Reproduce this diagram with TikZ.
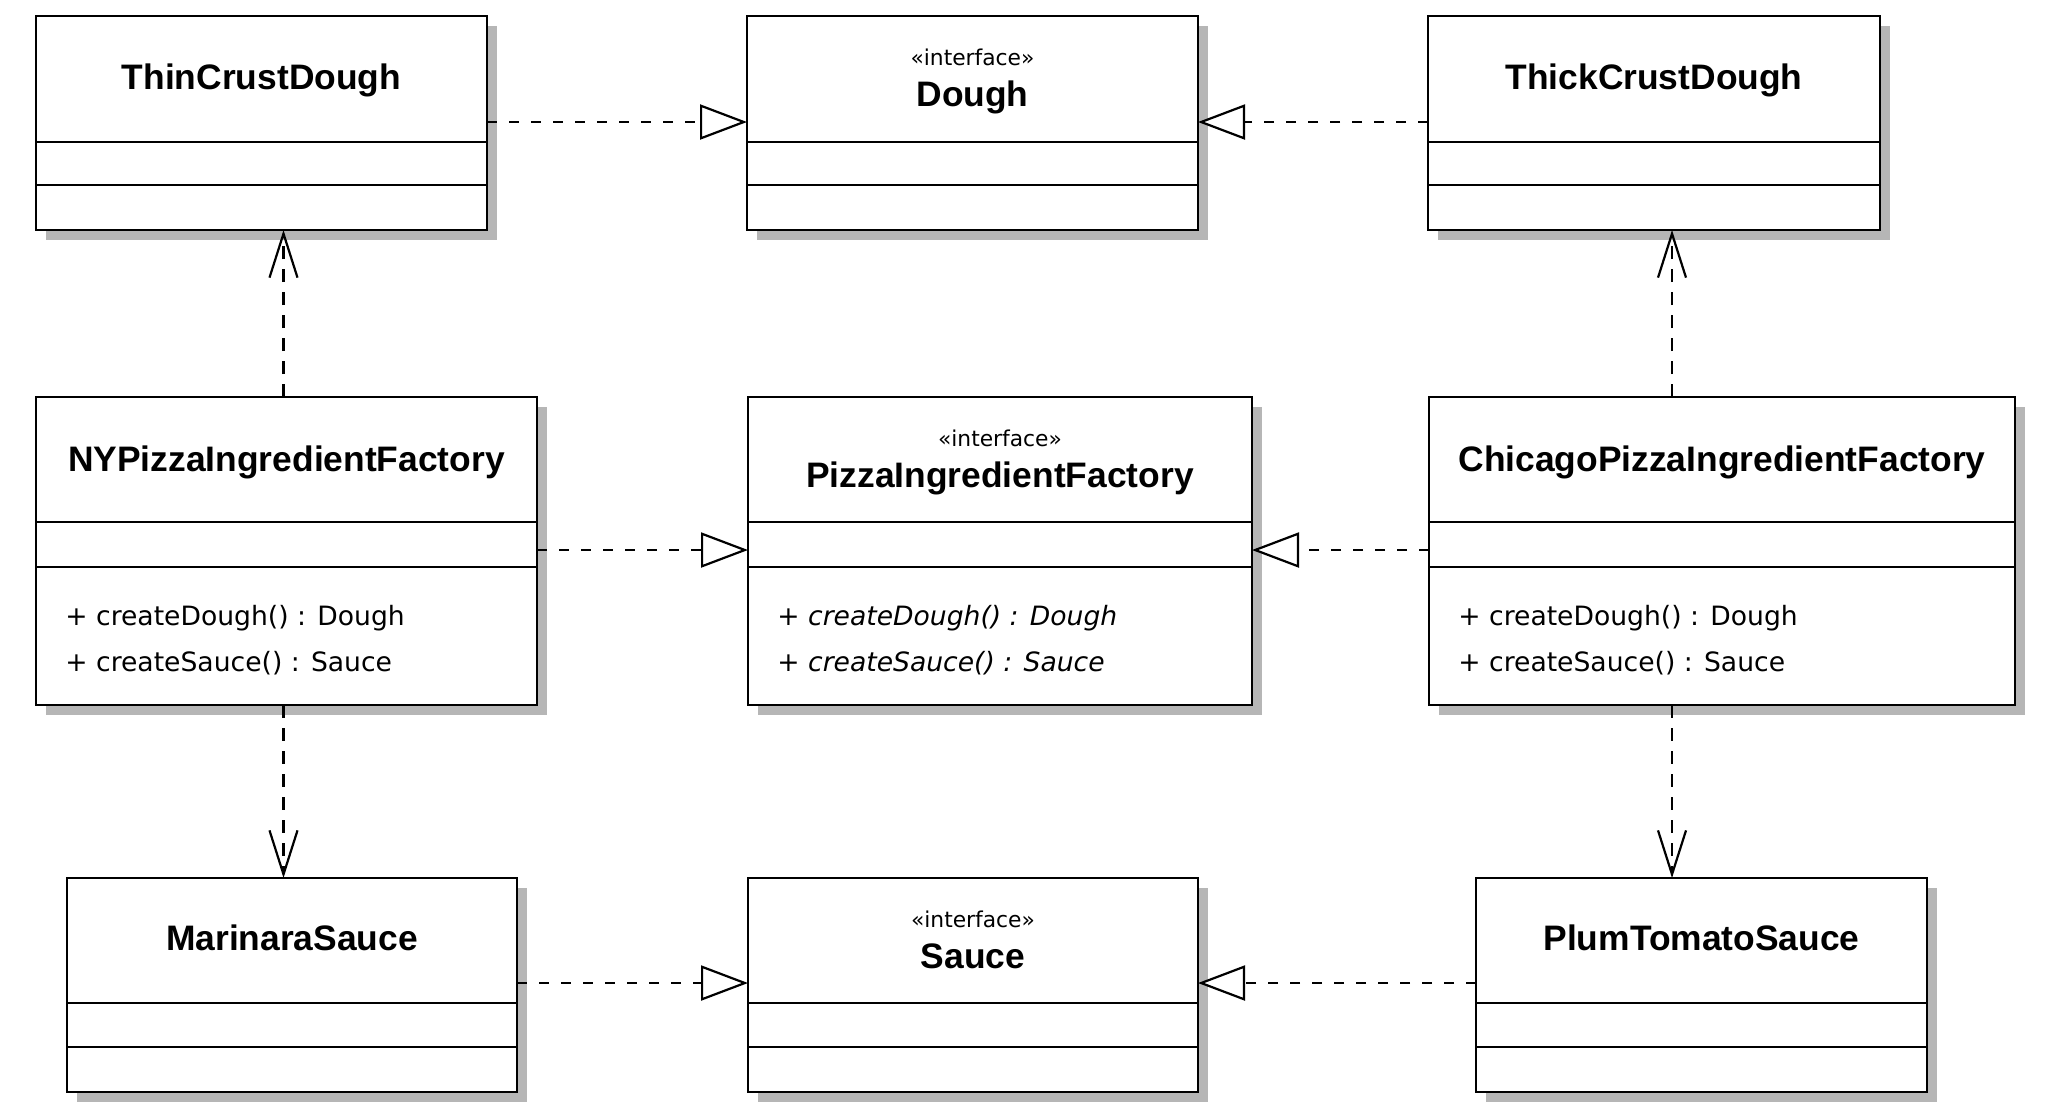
\documentclass[tikz,border=0pt]{standalone}
\usepackage{fontspec}
\setmainfont{DejaVu Sans}
\newfontfamily\titlefont{Liberation Sans}
\usetikzlibrary{arrows.meta}
\definecolor{shadowc}{RGB}{182,182,182}
\tikzset{
  cls/.style={draw=black, fill=white, line width=1.3pt, rectangle, inner sep=0pt, outer sep=0pt},
  comp/.style={line width=1.1pt},
  shadowbox/.style={fill=shadowc},
  ttl/.style={font=\titlefont\bfseries\fontsize{17.7}{20}\selectfont, anchor=base, inner sep=0pt},
  stereo/.style={font=\fontsize{10.9}{12}\selectfont, anchor=base, inner sep=0pt},
  meth/.style={font=\fontsize{13.3}{15}\selectfont, anchor=base west, inner sep=0pt},
  imeth/.style={meth, font=\fontsize{13.3}{15}\selectfont\itshape},
  realize/.style={line width=1.2pt, dash pattern=on 5pt off 6pt, -{Triangle[open, length=23.5pt, width=17.5pt, fill=white, line width=1.1pt]}},
  depend/.style={line width=1.2pt, dash pattern=on 6.5pt off 5pt, -{Straight Barb[length=22pt, width=14pt, line width=1.1pt]}},
}
% name, x1, y1, x2, y2, line1, line2
\newcommand{\umlbox}[7]{%
  \fill[shadowbox] (#2+10,#3+10) rectangle (#4+10,#5+10);
  \pgfmathsetmacro\bxw{(#4-#2)*0.5}%
  \pgfmathsetmacro\bxh{(#5-#3)*0.5}%
  \node[cls, minimum width=\bxw pt, minimum height=\bxh pt, anchor=north west] (#1) at (#2,#3) {};
  \draw[comp] (#2,#6) -- (#4,#6) (#2,#7) -- (#4,#7);
}
\begin{document}
\begin{tikzpicture}[x=0.5pt, y=-0.5pt]
\useasboundingbox[fill=white] (0,0) rectangle (2048,1116);

% classes
\umlbox{thin}{36}{16}{487}{230}{142}{185}
\umlbox{dough}{747}{16}{1198}{230}{142}{185}
\umlbox{thick}{1428}{16}{1880}{230}{142}{185}
\umlbox{ny}{36}{397}{537}{705}{522}{567}
\umlbox{pif}{748}{397}{1252}{705}{522}{567}
\umlbox{chi}{1429}{397}{2015}{705}{522}{567}
\umlbox{mar}{67}{878}{517}{1092}{1003}{1047}
\umlbox{sau}{748}{878}{1198}{1092}{1003}{1047}
\umlbox{plum}{1476}{878}{1927}{1092}{1003}{1047}

% texts
\node[ttl] (thin-t) at (261.5,89) {ThinCrustDough};
\node[stereo] (dough-s) at (972.5,65) {«interface»};
\node[ttl] (dough-t) at (972.5,106) {Dough};
\node[ttl] (thick-t) at (1654,89) {ThickCrustDough};

\node[ttl] (ny-t) at (286.5,471) {NYPizzaIngredientFactory};
\node[meth] (ny-m1) at (65,625) {+ createDough() : Dough};
\node[meth] (ny-m2) at (65,671) {+ createSauce() : Sauce};

\node[stereo] (pif-s) at (1000,446) {«interface»};
\node[ttl] (pif-t) at (1000,487) {PizzaIngredientFactory};
\node[imeth] (pif-m1) at (777,625) {+ createDough() : Dough};
\node[imeth] (pif-m2) at (777,671) {+ createSauce() : Sauce};

\node[ttl] (chi-t) at (1722,471) {ChicagoPizzaIngredientFactory};
\node[meth] (chi-m1) at (1458,625) {+ createDough() : Dough};
\node[meth] (chi-m2) at (1458,671) {+ createSauce() : Sauce};

\node[ttl] (mar-t) at (292,950) {MarinaraSauce};
\node[stereo] (sau-s) at (973,927) {«interface»};
\node[ttl] (sau-t) at (973,968) {Sauce};
\node[ttl] (plum-t) at (1701.5,950) {PlumTomatoSauce};

% helper coordinates
\coordinate (r1) at (0,122);
\coordinate (r2) at (0,550);
\coordinate (r3) at (0,983);
\coordinate (c1) at (283.5,0);
\coordinate (c2) at (1672,0);

% realizations
\draw[realize] (thin.east |- r1) -- (dough.west |- r1);
\draw[realize] (thick.west |- r1) -- (dough.east |- r1);
\draw[realize] (ny.east |- r2) -- (pif.west |- r2);
\draw[realize] (chi.west |- r2) -- (pif.east |- r2);
\draw[realize] (mar.east |- r3) -- (sau.west |- r3);
\draw[realize] (plum.west |- r3) -- (sau.east |- r3);

% dependencies
\draw[depend] (ny.north -| c1) -- (thin.south -| c1);
\draw[depend] (ny.south -| c1) -- (mar.north -| c1);
\draw[depend] (chi.north -| c2) -- (thick.south -| c2);
\draw[depend] (chi.south -| c2) -- (plum.north -| c2);
\end{tikzpicture}
\end{document}
